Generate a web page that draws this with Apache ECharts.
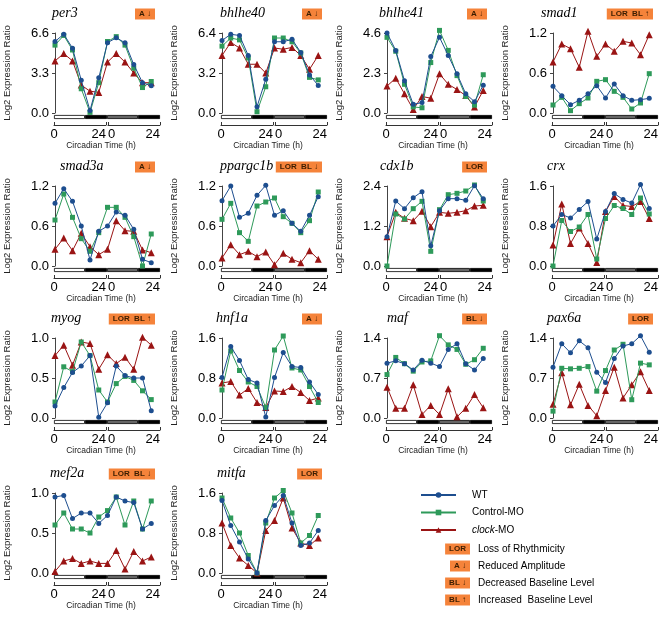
<!DOCTYPE html>
<html><head><meta charset="utf-8">
<script src="https://cdn.jsdelivr.net/npm/echarts@6/dist/echarts.min.js"></script>
<style>html,body{margin:0;padding:0;background:#fff}#c{width:664px;height:618px}</style>
</head><body><div id="c"></div>
<script>
// ---------- data ----------
const times = [0,4,8,12,16,20,24,28,32,36,40,44];
const genes = ['per3','bhlhe40','bhlhe41','smad1','smad3a','ppargc1b','cdx1b','crx','myog','hnf1a','maf','pax6a','mef2a','mitfa'];
const yMax  = [6.6, 6.4, 4.6, 1.2, 1.2, 1.2, 2.4, 1.6, 1.0, 1.6, 1.4, 1.4, 1.0, 1.6];
const badges = [['A↓'],['A↓'],['A↓'],['LOR','BL↑'],['A↓'],['LOR','BL↓'],['LOR'],[],['LOR','BL↑'],['A↓'],['BL↓'],['LOR'],['LOR','BL↓'],['LOR']];
const seriesNames = ['WT','Control-MO','clock-MO'];
const dayPhases = [14,10,14,10];       // light / dark / subjective day / subjective night (h)
const xTickLabels = ['0','24'];

const per3_WT  = [5.9,6.5,5.35,2.7,0.2,2.9,5.8,6.2,5.8,4.0,2.5,2.25];
const per3_MO  = [5.6,6.4,5.2,2.0,0.05,2.5,5.9,6.3,5.6,3.7,2.1,2.6];
const per3_CLK = [4.3,4.9,4.3,2.3,1.8,1.7,4.2,4.9,4.2,3.3,2.5,2.5];
const bhlhe40_WT  = [5.8,6.3,6.2,4.6,0.5,2.7,5.7,5.7,5.9,4.85,3.05,2.2];
const bhlhe40_MO  = [5.35,6.0,5.85,4.4,0.1,2.1,6.0,6.0,5.7,4.8,2.85,2.65];
const bhlhe40_CLK = [4.6,5.65,5.2,3.9,3.9,3.2,5.2,5.1,5.25,4.6,3.5,4.6];
const bhlhe41_WT  = [4.6,3.6,1.85,0.5,0.6,3.25,4.35,3.3,2.25,1.1,0.65,1.6];
const bhlhe41_MO  = [4.35,3.55,1.65,0.35,0.3,2.9,4.75,3.6,2.15,0.95,0.45,2.2];
const bhlhe41_CLK = [1.55,2.0,1.1,0.2,0.95,0.85,2.25,1.65,1.35,1.0,0.35,1.3];
const smad1_WT  = [0.4,0.26,0.125,0.19,0.29,0.41,0.225,0.435,0.26,0.19,0.2,0.22];
const smad1_MO  = [0.12,0.235,0.035,0.14,0.225,0.475,0.5,0.325,0.235,0.06,0.15,0.59];
const smad1_CLK = [0.765,1.035,0.965,0.685,1.225,0.85,1.035,0.925,1.075,1.05,0.875,1.175];
const smad3a_WT  = [0.94,1.16,0.97,0.6,0.09,0.52,0.6,0.81,0.76,0.55,0.1,0.05];
const smad3a_MO  = [0.69,1.08,0.73,0.41,0.22,0.5,0.88,0.88,0.73,0.44,0.0,0.48];
const smad3a_CLK = [0.25,0.42,0.23,0.49,0.29,0.17,0.25,0.68,0.53,0.52,0.24,0.2];
const ppargc1b_WT  = [0.98,1.2,0.73,0.79,1.06,1.21,0.76,0.83,0.64,0.52,0.76,1.04];
const ppargc1b_MO  = [0.7,0.94,0.5,0.37,0.9,0.96,1.02,0.74,0.64,0.5,0.68,1.11];
const ppargc1b_CLK = [0.12,0.32,0.17,0.22,0.14,0.21,0.02,0.19,0.1,0.05,0.23,0.1];
const cdx1b_WT  = [0.88,1.95,1.72,2.05,2.23,0.61,1.66,2.02,2.02,1.97,2.41,2.02];
const cdx1b_MO  = [0.0,1.56,1.41,1.72,1.94,0.44,1.69,2.14,2.18,2.25,2.43,1.95];
const cdx1b_CLK = [0.88,1.61,1.43,1.36,1.64,1.18,1.61,1.58,1.61,1.66,1.8,1.82];
const crx_WT  = [0.8,1.03,0.96,1.13,1.29,0.54,1.09,1.45,1.33,1.26,1.63,1.15];
const crx_MO  = [0.0,0.91,0.69,0.78,1.03,0.14,0.95,1.21,1.15,1.03,1.36,1.04];
const crx_CLK = [0.42,1.24,0.45,0.76,0.45,0.07,1.09,1.39,1.21,1.19,1.29,0.95];
const myog_WT  = [0.15,0.38,0.57,0.65,0.78,0.01,0.19,0.65,0.53,0.5,0.5,0.09];
const myog_MO  = [0.2,0.64,0.58,0.95,0.78,0.35,0.2,0.43,0.52,0.47,0.34,0.23];
const myog_CLK = [0.78,0.91,0.66,0.95,0.93,0.61,0.79,0.68,0.76,0.61,1.01,0.91];
const hnf1a_WT  = [0.81,1.43,1.15,0.77,0.7,0.02,0.81,1.31,1.03,1.01,0.72,0.47];
const hnf1a_MO  = [0.56,1.34,0.95,0.72,0.63,0.21,1.36,1.64,1.0,0.96,0.63,0.31];
const hnf1a_CLK = [0.7,0.73,0.46,0.59,0.31,0.21,0.54,0.53,0.63,0.51,0.35,0.4];
const maf_WT  = [0.96,1.0,0.95,0.84,1.01,0.96,0.9,1.2,1.3,0.95,0.84,1.04];
const maf_MO  = [0.76,1.06,0.95,0.82,0.98,1.0,1.44,1.28,1.2,0.94,1.02,1.22];
const maf_CLK = [0.54,0.17,0.17,0.58,0.06,0.22,0.06,0.51,0.02,0.17,0.41,0.18];
const pax6a_WT  = [0.89,1.3,1.14,1.35,1.23,0.8,0.62,1.04,1.26,1.3,1.44,1.15];
const pax6a_MO  = [0.12,0.87,0.86,0.87,0.9,0.47,0.83,1.19,1.29,0.32,0.96,0.93];
const pax6a_CLK = [0.24,0.79,0.23,0.59,0.22,0.04,0.48,0.89,0.35,0.58,0.81,0.48];
const mef2a_WT  = [0.95,0.97,0.68,0.75,0.75,0.62,0.72,0.95,0.9,0.88,0.55,0.62];
const mef2a_MO  = [0.6,0.75,0.55,0.55,0.5,0.7,0.78,0.95,0.6,0.9,0.55,0.9];
const mef2a_CLK = [0.02,0.15,0.18,0.12,0.15,0.12,0.12,0.28,0.05,0.27,0.15,0.2];
const mitfa_WT  = [1.45,0.95,0.62,0.28,0.0,1.05,1.35,1.55,1.0,0.55,0.6,0.85];
const mitfa_MO  = [1.5,1.1,0.8,0.35,0.0,1.0,1.5,1.65,1.2,0.6,0.75,1.15];
const mitfa_CLK = [1.0,0.55,0.3,0.15,0.0,0.85,1.05,1.5,0.9,0.6,0.55,0.7];

const geneData = [
  [per3_WT,per3_MO,per3_CLK],[bhlhe40_WT,bhlhe40_MO,bhlhe40_CLK],[bhlhe41_WT,bhlhe41_MO,bhlhe41_CLK],
  [smad1_WT,smad1_MO,smad1_CLK],[smad3a_WT,smad3a_MO,smad3a_CLK],[ppargc1b_WT,ppargc1b_MO,ppargc1b_CLK],
  [cdx1b_WT,cdx1b_MO,cdx1b_CLK],[crx_WT,crx_MO,crx_CLK],[myog_WT,myog_MO,myog_CLK],
  [hnf1a_WT,hnf1a_MO,hnf1a_CLK],[maf_WT,maf_MO,maf_CLK],[pax6a_WT,pax6a_MO,pax6a_CLK],
  [mef2a_WT,mef2a_MO,mef2a_CLK],[mitfa_WT,mitfa_MO,mitfa_CLK]
];
const legendBadges = [['LOR','Loss of Rhythmicity'],['A↓','Reduced Amplitude'],['BL↓','Decreased Baseline Level'],['BL↑','Increased  Baseline Level']];

// ---------- layout / style ----------
const colX = [0,167,332,498];
const rowY = [0,153,305,460];
const titleLeft = [52,53,47,43,60,53,48,49,51,49,55,49,50,50];
const colors = ['#1d4e8f','#2e9a5a','#9a1414'];
const symbols = ['circle','rect','triangle'];
const symSizes = [5,5,7];
const phaseColors = ['#ffffff','#000000','#666666','#000000'];
const ORANGE = '#f5833a';
const SANS = 'Liberation Sans, Arial, sans-serif';

const grids=[], xAxes=[], yAxes=[], series=[], titles=[], graphics=[];

genes.forEach((gname, i) => {
  const ox = colX[i%4], oy = rowY[Math.floor(i/4)];
  const g0 = grids.length;
  grids.push({left: ox+55, top: oy+33, width: 105, height: 80});
  xAxes.push({gridIndex: g0, type:'value', min:0, max:48, show:false});
  yAxes.push({gridIndex: g0, type:'value', min:0, max:yMax[i], interval:yMax[i]/2, offset:3,
    axisLine:{show:true, lineStyle:{color:'#444', width:1}},
    axisTick:{show:true, length:3, lineStyle:{color:'#444'}},
    splitLine:{show:false},
    axisLabel:{fontSize:13, color:'#000', fontFamily:SANS, margin:3, formatter:v=>v.toFixed(1)},
    name:'Log2 Expression Ratio', nameLocation:'middle', nameGap:40,
    nameTextStyle:{fontSize:9.5, color:'#222', fontFamily:SANS}});
  grids.push({left: ox+54, top: oy+115, width: 106, height: 4});
  xAxes.push({gridIndex: g0+1, type:'value', min:0, max:48, show:false});
  yAxes.push({gridIndex: g0+1, type:'category', data:['LD'], show:false});
  [[54,1],[108,2]].forEach(([lx,k]) => {
    const gi = grids.length;
    grids.push({left: ox+lx, top: oy+124, width: 52, height: 1});
    xAxes.push({gridIndex: gi, type:'value', min:0, max:24, interval:24, position:'bottom',
      axisLine:{show:true, lineStyle:{color:'#333', width:1}},
      axisTick:{show:true, inside:true, length:3, lineStyle:{color:'#333'}},
      splitLine:{show:false},
      axisLabel:{show:true, fontSize:13, color:'#000', fontFamily:SANS, margin:3,
        showMinLabel:true, showMaxLabel:true,
        alignMinLabel: k===1 ? 'center' : 'left', alignMaxLabel:'right',
        formatter: v => v===0 ? xTickLabels[0] : xTickLabels[1]}});
    yAxes.push({gridIndex: gi, type:'value', show:false});
  });
  geneData[i].forEach((vals, s) => {
    series.push({type:'line', name: seriesNames[s], xAxisIndex:g0, yAxisIndex:g0,
      data: vals.map((v,j)=>[times[j], v]), clip:false,
      symbol: symbols[s], symbolSize: symSizes[s], showSymbol:true,
      lineStyle:{color:colors[s], width:1}, itemStyle:{color:colors[s]},
      z: s===0 ? 4 : (s===1 ? 3 : 2), animation:false});
  });
  dayPhases.forEach((len, k) => {
    series.push({type:'bar', name:'ld', stack:'ld'+i, xAxisIndex:g0+1, yAxisIndex:g0+1,
      data:[len], barWidth:'100%', silent:true, animation:false,
      itemStyle:{color:phaseColors[k], borderColor:'#000', borderWidth:0.8}});
  });
  titles.push({text: gname, left: ox+titleLeft[i], top: oy+6, padding:0,
    textStyle:{fontFamily:'Liberation Serif, Times New Roman, serif', fontStyle:'italic', fontWeight:'normal', fontSize:14, color:'#000'}});
  graphics.push({type:'text', x: ox+101, y: oy+146,
    style:{text:'Circadian Time (h)', font:'8.5px '+SANS, fill:'#222', align:'center', verticalAlign:'middle'}});
  if (badges[i].length) {
    graphics.push({type:'text', x: ox+155, y: oy+14,
      style:{text: badges[i].join('  ').replace(/↓|↑/g, m=>' '+m), font:'bold 8px '+SANS, fill:'#3b1d00',
        align:'right', verticalAlign:'middle', backgroundColor:ORANGE, padding:[2,4,1,4]}});
  }
});

// legend badges
const lgBadgeY = [549, 566, 583, 600];
legendBadges.forEach(([b, txt], k) => {
  graphics.push({type:'text', x: 470, y: lgBadgeY[k],
    style:{text: b.replace(/↓|↑/g, m=>' '+m), font:'bold 8px '+SANS, fill:'#3b1d00', align:'right', verticalAlign:'middle',
      backgroundColor:ORANGE, padding:[2,4,1,4]}});
  graphics.push({type:'text', x: 478, y: lgBadgeY[k],
    style:{text: txt, font:'10px '+SANS, fill:'#000', align:'left', verticalAlign:'middle'}});
});

const chart = echarts.init(document.getElementById('c'), null, {renderer:'canvas', width:664, height:618});
chart.setOption({
  animation:false,
  backgroundColor:'#fff',
  title: titles,
  grid: grids, xAxis: xAxes, yAxis: yAxes, series: series,
  legend: {data: seriesNames, orient:'vertical', left:420, top:490, padding:0, itemWidth:35, itemHeight:7, itemGap:7.5,
    textStyle:{fontSize:10, fontFamily:SANS, color:'#000', padding:[0,0,0,11],
      rich:{i:{fontStyle:'italic', fontSize:10, fontFamily:SANS}}},
    formatter: n => n==='clock-MO' ? '{i|clock}-MO' : n, selectedMode:false},
  graphic: graphics
});
</script>
</body></html>
